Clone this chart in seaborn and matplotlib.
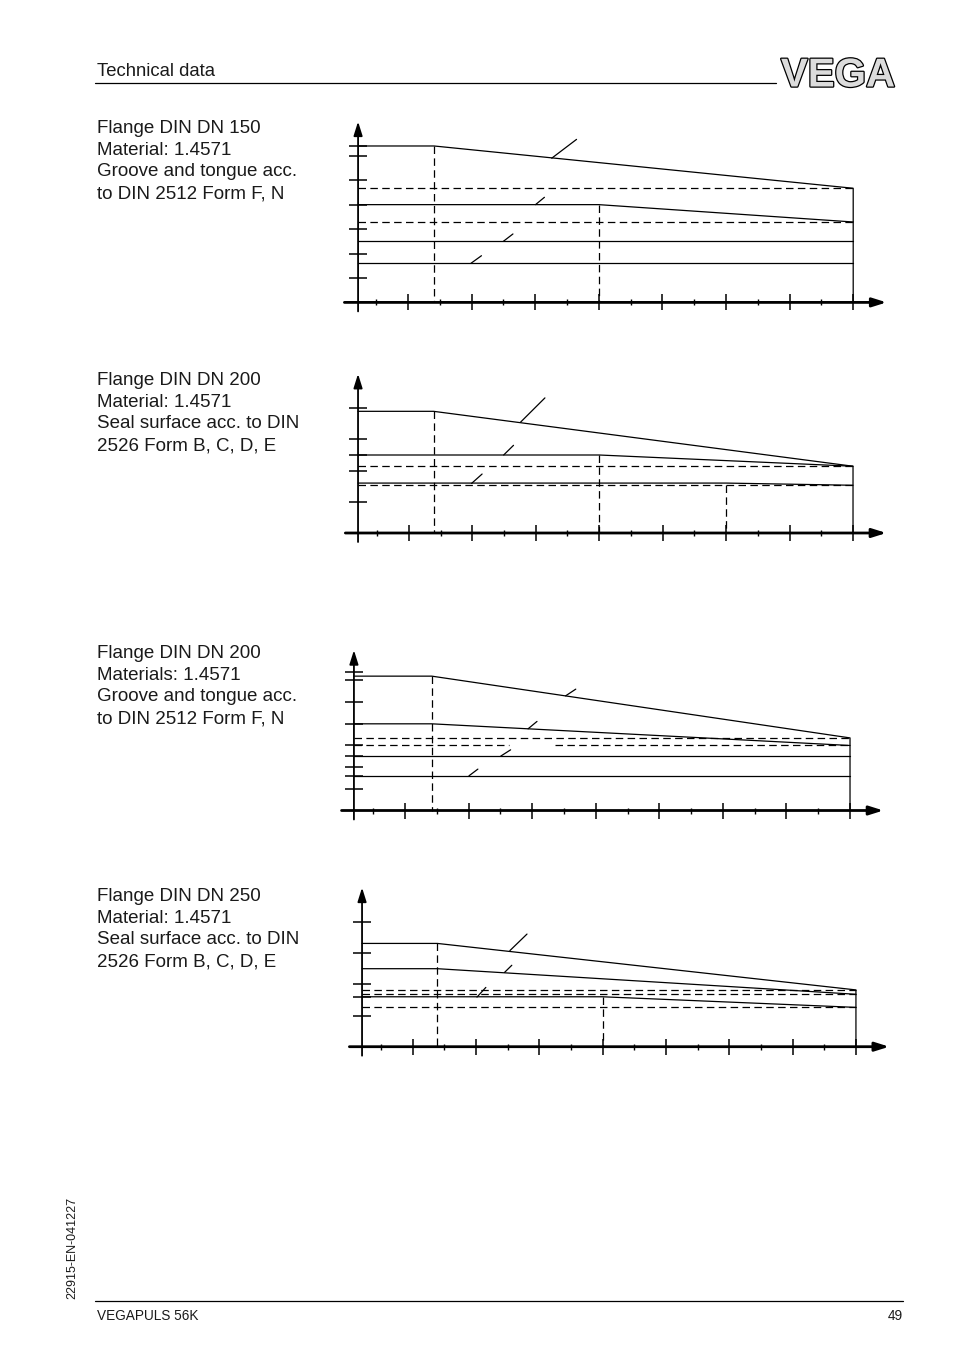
import matplotlib
matplotlib.use("Agg")
import matplotlib.pyplot as plt
import pandas as pd
import seaborn as sns
from matplotlib import patheffects

# ---------------------------------------------------------------- data
# temperature axis ticks (°C) and pressure values (bar) read from the page
x_major = [0, 20, 40, 60, 80, 100, 120, 140]
x_minor = [-10, 10, 30, 50, 70, 90, 110, 130]

# Chart 1 - Flange DIN DN 150, groove and tongue
c1_yticks = [10, 20, 30, 40, 50, 60, 64]
c1_lines = [
    ([-15.7, 8.2, 140, 140], [64, 64, 46.7, 0], "solid"),
    ([-15.7, 140], [46.7, 46.7], "dashed"),
    ([-15.7, 60, 140], [40, 40, 32.9], "solid"),
    ([-15.7, 140], [32.9, 32.9], "dashed"),
    ([-15.7, 140], [25, 25], "solid"),
    ([-15.7, 140], [16, 16], "solid"),
    ([8.2, 8.2], [64, 0], "dashed"),
    ([60, 60], [40, 0], "dashed"),
]
c1_leaders = [
    ([45.2, 53.0], [59.0, 66.7]),
    ([40.1, 42.9], [40.0, 43.0]),
    ([30.0, 33.0], [25.0, 28.0]),
    ([19.8, 23.1], [16.0, 19.1]),
]

# Chart 2 - Flange DIN DN 200, seal surface
c2_yticks = [10, 20, 25, 30, 40]
c2_lines = [
    ([-16, 7.8, 140, 140], [39, 39, 21.4, 0], "solid"),
    ([-16, 60, 140], [25, 25, 21.4], "solid"),
    ([-16, 140], [21.4, 21.4], "dashed"),
    ([-16, 100, 140], [16, 16, 15.3], "solid"),
    ([-16, 140], [15.3, 15.3], "dashed"),
    ([7.8, 7.8], [39, 0], "dashed"),
    ([60, 60], [25, 0], "dashed"),
    ([100, 100], [15.3, 0], "dashed"),
]
c2_leaders = [
    ([35.2, 42.9], [35.5, 43.3]),
    ([29.9, 33.0], [25.0, 28.1]),
    ([19.8, 23.1], [15.9, 18.9]),
]

# Chart 3 - Flange DIN DN 200, groove and tongue
c3_yticks = [10, 16, 20, 25, 30, 40, 50, 60, 64]
c3_lines = [
    ([-16.1, 8.4, 140, 140], [62, 62, 33.5, 0], "solid"),
    ([-16.1, 8.4, 140], [40, 40, 30], "solid"),
    ([-16.1, 140], [33.5, 33.5], "dashed"),
    ([-16.1, 32.6], [30, 30], "dashed"),
    ([47.2, 140], [30, 30], "dashed"),
    ([-16.1, 140], [25, 25], "solid"),
    ([-16.1, 140], [16, 16], "solid"),
    ([8.4, 8.4], [62, 0], "dashed"),
]
c3_leaders = [
    ([50.5, 53.7], [52.9, 56.0]),
    ([38.7, 41.5], [37.7, 41.1]),
    ([30.1, 33.2], [25.1, 28.0]),
    ([20.1, 22.9], [16.0, 19.1]),
]

# Chart 4 - Flange DIN DN 250, seal surface
c4_yticks = [10, 16, 20, 30, 40]
c4_lines = [
    ([-16, 7.8, 140, 140], [33.1, 33.1, 18.2, 0], "solid"),
    ([-16, 7.8, 140], [25, 25, 16.8], "solid"),
    ([-16, 140], [18.2, 18.2], "dashed"),
    ([-16, 140], [16.8, 16.8], "dashed"),
    ([-16, 60, 140], [16, 16, 12.6], "solid"),
    ([-16, 140], [12.6, 12.6], "dashed"),
    ([7.8, 7.8], [33.1, 0], "dashed"),
    ([60, 60], [16, 0], "dashed"),
]
c4_leaders = [
    ([30.7, 36.1], [30.8, 36.1]),
    ([29.0, 31.3], [23.8, 26.1]),
    ([20.3, 23.1], [15.9, 19.0]),
]

captions = [
    ["Flange DIN DN 150", "Material: 1.4571", "Groove and tongue acc.", "to DIN 2512 Form F, N"],
    ["Flange DIN DN 200", "Material: 1.4571", "Seal surface acc. to DIN", "2526 Form B, C, D, E"],
    ["Flange DIN DN 200", "Materials: 1.4571", "Groove and tongue acc.", "to DIN 2512 Form F, N"],
    ["Flange DIN DN 250", "Material: 1.4571", "Seal surface acc. to DIN", "2526 Form B, C, D, E"],
]

# ---------------------------------------------------------------- layout
W, H = 954, 1354
sns.set_style("white")
plt.rcParams["font.family"] = ["Liberation Sans", "DejaVu Sans"]

fig = plt.figure(figsize=(W / 100, H / 100), dpi=100)
fig.patch.set_facecolor("white")

# (px of T=0, px per °C, px of P=0, px per bar, y-axis T, top of y axis in bar, caption baseline px)
layouts = [
    (408.0, 3.18, 302.4, 2.444, -15.7, 74, 133),
    (408.8, 3.173, 533.0, 3.12, -16.0, 51, 385),
    (405.1, 3.178, 810.5, 2.167, -16.1, 74, 658),
    (412.7, 3.166, 1046.7, 3.12, -16.0, 51, 901),
]
charts = [
    (c1_lines, c1_leaders, c1_yticks),
    (c2_lines, c2_leaders, c2_yticks),
    (c3_lines, c3_leaders, c3_yticks),
    (c4_lines, c4_leaders, c4_yticks),
]

TEXT_COLOR = "#1a1a1a"

for (lines, leaders, yticks), (t0, sx, p0, sy, yax, ytop, cap_y), cap in zip(charts, layouts, captions):
    left, right = 330, 905
    top = p0 - ytop * sy - 12
    bottom = p0 + 22
    ax = fig.add_axes([left / W, 1 - bottom / H, (right - left) / W, (bottom - top) / H])
    ax.set_xlim((left - t0) / sx, (right - t0) / sx)
    ax.set_ylim((p0 - bottom) / sy, (p0 - top) / sy)
    ax.patch.set_alpha(0)

    rows = []
    for i, (t, p, st) in enumerate(lines):
        for tv, pv in zip(t, p):
            rows.append({"T": tv, "P": pv, "id": f"l{i}", "style": st})
    for j, (t, p) in enumerate(leaders):
        for tv, pv in zip(t, p):
            rows.append({"T": tv, "P": pv, "id": f"k{j}", "style": "solid"})
    df = pd.DataFrame(rows)
    sns.lineplot(data=df, x="T", y="P", units="id", estimator=None, sort=False,
                 style="style", dashes={"solid": "", "dashed": (6, 3.5)},
                 color="black", linewidth=0.9, legend=False, ax=ax)

    # axes with arrows
    arrow = dict(arrowstyle="-|>,head_length=0.7,head_width=0.22", color="black",
                 shrinkA=0, shrinkB=0, mutation_scale=12)
    ax.annotate("", xy=(150.5, 0), xytext=(-20, 0),
                arrowprops=dict(arrow, lw=2.0), annotation_clip=False)
    ax.annotate("", xy=(yax, ytop), xytext=(yax, -9 / sy),
                arrowprops=dict(arrow, lw=1.3), annotation_clip=False)

    for s in ax.spines.values():
        s.set_visible(False)
    ax.spines["left"].set_position(("data", yax))
    ax.spines["bottom"].set_position(("data", 0))
    ax.set_xticks(x_major)
    ax.set_xticks(x_minor, minor=True)
    ax.set_yticks(yticks)
    ax.tick_params(axis="x", which="major", direction="inout", length=11, width=1.1,
                   labelbottom=False, color="black", bottom=True)
    ax.tick_params(axis="x", which="minor", direction="inout", length=4, width=1.0,
                   labelbottom=False, color="black", bottom=True)
    ax.tick_params(axis="y", which="major", direction="inout", length=13, width=1.1,
                   labelleft=False, color="black", left=True)
    ax.set_xlabel("")
    ax.set_ylabel("")
    ax.grid(False)

    for k, line in enumerate(cap):
        fig.text(97 / W, 1 - (cap_y + k * 21.7) / H, line, fontsize=13.5,
                 ha="left", va="baseline", color=TEXT_COLOR)

# header
fig.text(97 / W, 1 - 76 / H, "Technical data", fontsize=13.3, ha="left", va="baseline", color=TEXT_COLOR)
fig.add_artist(plt.Line2D([95 / W, 776 / W], [1 - 83 / H, 1 - 83 / H], color="black", lw=0.9))
logo = fig.text(838 / W, 1 - 86.5 / H, "VEGA", fontsize=29, fontweight="bold",
                ha="center", va="baseline", color="#dcdcdc")
logo.set_path_effects([patheffects.withStroke(linewidth=1.8, foreground="black")])

# footer
fig.add_artist(plt.Line2D([95 / W, 903 / W], [1 - 1301 / H, 1 - 1301 / H], color="black", lw=0.9))
fig.text(97 / W, 1 - 1320 / H, "VEGAPULS 56K", fontsize=9.8, ha="left", va="baseline", color=TEXT_COLOR)
fig.text(903 / W, 1 - 1320 / H, "49", fontsize=9.8, ha="right", va="baseline", color=TEXT_COLOR)
fig.text(72 / W, 1 - 1248 / H, "22915-EN-041227", fontsize=9, rotation=90,
         ha="center", va="center", color=TEXT_COLOR)

fig.savefig("out.png", dpi=100, facecolor="white")
